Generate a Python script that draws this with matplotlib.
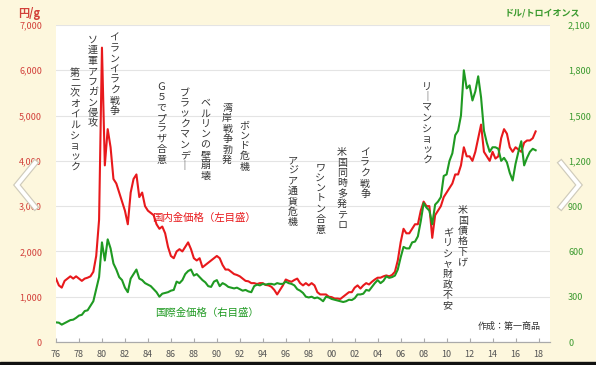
import matplotlib
matplotlib.use('Agg')
import matplotlib.pyplot as plt
from matplotlib.lines import Line2D
import numpy as np

plt.rcParams['font.family'] = ['Noto Sans CJK JP', 'DejaVu Sans']

# quarterly values, 1976 Q1 .. 2017 Q4
start_year = 1976
# domestic gold, yen per gram (left axis)
jp_price = [1400, 1250, 1200, 1350,
	1400, 1450, 1400, 1450,
	1400, 1350, 1400, 1420,
	1450, 1550, 1900, 2700,
	6500, 3900, 4700, 4300,
	3600, 3500, 3300, 3100,
	2900, 2600, 3300, 3600,
	3700, 3200, 3300, 3000,
	2900, 2850, 2800, 2600,
	2500, 2550, 2400, 2100,
	1900, 1850, 2000, 2050,
	2000, 2100, 2200, 2050,
	1850, 1800, 1850, 1650,
	1700, 1750, 1800, 1850,
	1900, 1850, 1700, 1600,
	1600, 1550, 1500, 1480,
	1450, 1400, 1350, 1340,
	1300, 1300, 1280, 1300,
	1300, 1260, 1250, 1220,
	1150, 1050, 1150, 1250,
	1380, 1350, 1330, 1370,
	1400, 1300, 1250, 1300,
	1250, 1300, 1250, 1100,
	1050, 1050, 1050, 1000,
	990, 960, 960, 950,
	1000, 1050, 1100, 1100,
	1200, 1250, 1180, 1250,
	1300, 1270, 1330, 1380,
	1420, 1420, 1450, 1470,
	1450, 1480, 1550, 1800,
	2200, 2500, 2400, 2400,
	2500, 2600, 2600, 2900,
	3100, 3000, 3000, 2300,
	2800, 2900, 3000, 3200,
	3300, 3400, 3500, 3700,
	3700, 3900, 4300, 4100,
	4100, 4000, 4200, 4500,
	4800, 4200, 4100, 4000,
	4200, 4050, 4100, 4500,
	4700, 4600, 4300, 4200,
	4300, 4250, 4200, 4400,
	4450, 4450, 4500, 4650]

# international gold, dollars per troy ounce (right axis)
us_price = [130, 128, 115, 125,
	135, 145, 148, 160,
	175, 180, 205, 210,
	240, 270, 350, 430,
	660, 540, 680, 620,
	520, 480, 430, 410,
	360, 330, 420, 450,
	480, 420, 410, 390,
	380, 370, 350, 330,
	300, 320, 325, 330,
	340, 345, 400, 390,
	410, 450, 470, 480,
	440, 450, 430, 410,
	395, 370, 365, 400,
	410, 370, 390, 380,
	365, 360, 355, 360,
	350, 340, 345, 335,
	330, 370, 380, 375,
	385, 380, 385, 385,
	380, 390, 385, 385,
	400, 390, 385, 375,
	350, 340, 325, 300,
	295, 300, 290, 295,
	285, 270, 300, 295,
	285, 280, 275, 270,
	265, 270, 280, 278,
	290, 315, 315, 320,
	345, 340, 365, 390,
	410, 390, 405, 435,
	425, 430, 440, 480,
	560, 630, 620, 620,
	660, 665, 700, 800,
	920, 890, 870, 780,
	910, 930, 960, 1100,
	1110, 1200, 1250, 1370,
	1400, 1500, 1800, 1680,
	1700, 1600, 1660, 1760,
	1620, 1400, 1320, 1260,
	1290, 1290, 1280, 1200,
	1220, 1190, 1120, 1070,
	1180, 1260, 1330, 1170,
	1220, 1260, 1280, 1270]

left_ticks = [0, 1000, 2000, 3000, 4000, 5000, 6000, 7000]
right_ticks = [0, 300, 600, 900, 1200, 1500, 1800, 2100]
year_ticks = list(range(1976, 2019, 2))

# event notes: text, year, top (left-axis units)
events = [
	('第二次オイルショック', 1977.65, 6050),
	('ソ連軍アフガン侵攻', 1979.2, 6780),
	('イランイラク戦争', 1981.1, 6820),
	('Ｇ５でプラザ合意', 1985.2, 5740),
	('ブラックマンデ｜', 1987.2, 5610),
	('ベルリンの壁崩壊', 1989.0, 5390),
	('湾岸戦争勃発', 1990.9, 5280),
	('ボンド危機', 1992.4, 4900),
	('アジア通貨危機', 1996.6, 4130),
	('ワシントン合意', 1999.0, 3970),
	('米国同時多発テロ', 2000.9, 4300),
	('イラク戦争', 2002.9, 4300),
	('リ｜マンショック', 2008.3, 5740),
	('米国債格下げ', 2011.4, 3020),
	('ギリシャ財政不安', 2010.1, 2520),
]

RED = '#e8191c'
GREEN = '#1f9a22'
BG = '#fdf7dd'


def chevron(fig, pts):
	xs = [p[0] / 596 for p in pts]
	ys = [1 - p[1] / 365 for p in pts]
	fig.add_artist(Line2D(xs, ys, transform=fig.transFigure, color='#cfcbbb', lw=4.5, solid_joinstyle='miter'))
	fig.add_artist(Line2D(xs, ys, transform=fig.transFigure, color='white', lw=2.8, solid_joinstyle='miter'))


def main():
	fig = plt.figure(figsize=(5.96, 3.65), dpi=100)
	fig.patch.set_facecolor(BG)
	ax = fig.add_axes([56 / 596, 23 / 365, 494 / 596, 317 / 365])
	ax.set_facecolor('white')
	ax2 = ax.twinx()

	x = start_year + np.arange(len(jp_price)) / 4.0
	ax.plot(x, jp_price, color=RED, lw=1.5, zorder=3)
	ax2.plot(x, us_price, color=GREEN, lw=1.5, zorder=3)

	ax.set_xlim(1976, 2019)
	ax.set_ylim(0, 7000)
	ax2.set_ylim(0, 2100)

	ax.set_yticks(left_ticks)
	ax.set_yticklabels(['{:,}'.format(v) for v in left_ticks])
	ax2.set_yticks(right_ticks)
	ax2.set_yticklabels(['{:,}'.format(v) for v in right_ticks])
	ax.set_xticks(year_ticks)
	ax.set_xticklabels(['%02d' % (y % 100) for y in year_ticks])

	ax.grid(axis='y', color='#e4e4e4', lw=0.8)
	ax.set_axisbelow(True)
	for a in (ax, ax2):
		for s in ('top', 'right', 'left'):
			a.spines[s].set_visible(False)
		a.spines['bottom'].set_color('#aaaaaa')
	ax.tick_params(axis='y', length=0, pad=10, labelsize=6.5, labelcolor='#d2403a')
	ax2.tick_params(axis='y', length=0, pad=13, labelsize=6.5, labelcolor='#3a9a2e')
	ax.tick_params(axis='x', direction='in', length=3, color='#aaaaaa', pad=6, labelsize=6.5, labelcolor='#555555')

	for text, yr, top in events:
		ax.text(yr, top, '\n'.join(text), ha='center', va='top', fontsize=7.2,
			linespacing=1.05, color='#333333', zorder=5)

	ax.text(1984.4, 2750, '国内金価格（左目盛）', color=RED, fontsize=7.5, va='center', ha='left', zorder=5)
	ax.text(1984.6, 650, '国際金価格（右目盛）', color=GREEN, fontsize=7.5, va='center', ha='left', zorder=5)
	ax.text(2018.2, 350, '作成：第一商品', color='#333333', fontsize=6.5, va='center', ha='right', zorder=5)

	fig.text(18 / 596, 1 - 13 / 365, '円/g', color='#d2403a', fontsize=8, fontweight='bold', va='center', ha='left')
	fig.text(580 / 596, 1 - 13 / 365, 'ドル/トロイオンス', color='#3a9a2e', fontsize=6.5, fontweight='bold', va='center', ha='right')

	chevron(fig, [(35, 163), (17, 185), (35, 207)])
	chevron(fig, [(561, 163), (579, 185), (561, 207)])

	# dark band at bottom of the screenshot
	fig.add_artist(plt.Rectangle((0, 0), 1, 3 / 365, transform=fig.transFigure, color='#111111'))

	fig.savefig('out.png', dpi=100, facecolor=BG)


if __name__ == '__main__':
	main()
